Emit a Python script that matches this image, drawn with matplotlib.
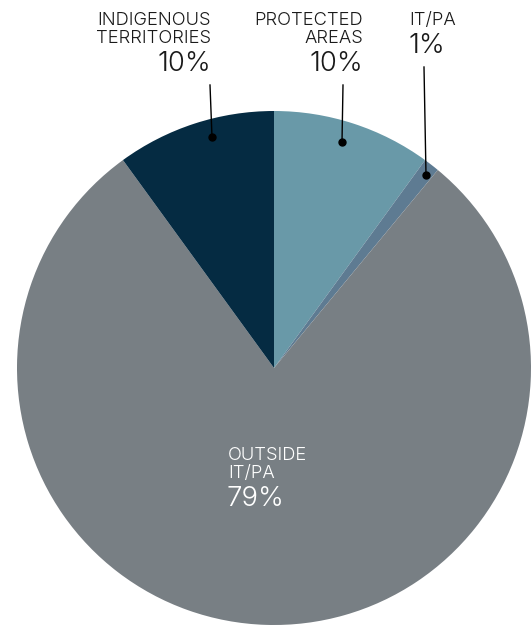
import matplotlib
matplotlib.use("Agg")
import matplotlib.pyplot as plt

# Data
categories = ["PROTECTED\nAREAS", "IT/PA", "OUTSIDE\nIT/PA", "INDIGENOUS\nTERRITORIES"]
values = [10, 1, 79, 10]
pct_labels = ["10%", "1%", "79%", "10%"]
colors = ["#6999a8", "#5e7b92", "#787f84", "#052b42"]

W, H = 532, 627
plt.rcParams['font.family'] = ['Inter', 'DejaVu Sans']
fig = plt.figure(figsize=(W / 100, H / 100), dpi=100)
ax = fig.add_axes([0, 0, 1, 1])

def Y(y):
    return H - y

cx, cy, r = 274, 368, 257
ax.pie(values, colors=colors, startangle=90, counterclock=False,
       center=(cx, Y(cy)), radius=r, frame=True,
       wedgeprops=dict(linewidth=0, antialiased=True))
ax.set_xlim(0, W)
ax.set_ylim(0, H)
ax.set_aspect('equal')
ax.axis('off')

tc = "#1a1a1a"
small = 13.2
big = 19.8
fw = 300

def label(x, y, s, size, ha='right', color=tc):
    ax.text(x, Y(y), s, ha=ha, va='baseline', fontsize=size, color=color, fontweight=fw)

# Indigenous territories
label(211, 25, "INDIGENOUS", small)
label(211, 43, "TERRITORIES", small)
label(211, 71, pct_labels[3], big)
ax.plot([210, 212], [Y(85), Y(137)], color='black', lw=1.0)
ax.plot([212], [Y(137)], 'o', color='black', ms=5)

# Protected areas
label(363, 25, "PROTECTED", small)
label(363, 43, "AREAS", small)
label(363, 71, pct_labels[0], big)
ax.plot([343, 342], [Y(85), Y(142)], color='black', lw=1.0)
ax.plot([342], [Y(142)], 'o', color='black', ms=5)

# IT/PA
label(409, 25, categories[1], small, ha='left')
label(408, 53, pct_labels[1], big, ha='left')
ax.plot([424, 426], [Y(67), Y(175)], color='black', lw=1.0)
ax.plot([426], [Y(175)], 'o', color='black', ms=5)

# Outside
label(228, 460, "OUTSIDE", small, ha='left', color='white')
label(228, 478, "IT/PA", small, ha='left', color='white')
label(227, 506, pct_labels[2], big, ha='left', color='white')

fig.savefig("out.png", dpi=100)
